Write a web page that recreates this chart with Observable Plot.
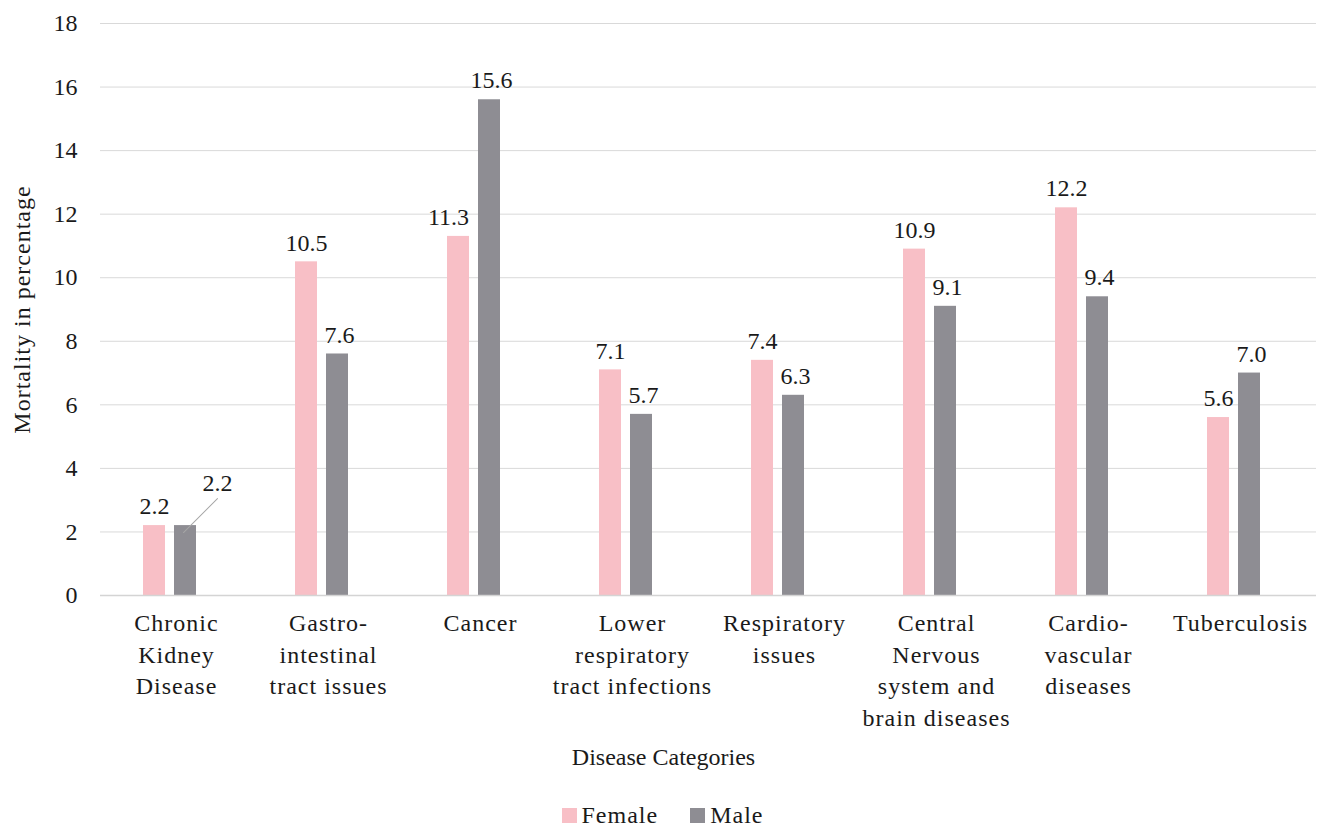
<!DOCTYPE html>
<html><head><meta charset="utf-8">
<script src="https://cdn.jsdelivr.net/npm/d3@7"></script>
<script src="https://cdn.jsdelivr.net/npm/@observablehq/plot@0.6"></script>
<style>
body{margin:0;background:#fff;}
#chart{width:1321px;}
#chart svg{display:block;}
#chart svg text{font-family:"Liberation Serif",serif;}
#chart svg g[aria-label="x-axis tick label"] text,
#chart svg [aria-label="x-title"],
#chart svg [aria-label="x-title"] text,
#chart svg g[aria-label="y-axis label"] text{letter-spacing:1px;}
.legend{display:flex;justify-content:center;align-items:center;gap:32px;padding-top:18px;padding-left:4px;font-family:"Liberation Serif",serif;font-size:24px;letter-spacing:1px;color:#1a1a1a;line-height:24px;}
.legend span.item{display:flex;align-items:center;}
.legend span.sw{display:inline-block;width:15px;height:15px;margin-right:5px;}
</style></head><body><div id="chart"></div><script>
const categories = ["Chronic Kidney Disease","Gastro-intestinal tract issues","Cancer","Lower respiratory tract infections","Respiratory issues","Central Nervous system and brain diseases","Cardio-vascular diseases","Tuberculosis"];
const tickLabels = ["Chronic\nKidney\nDisease","Gastro-\nintestinal\ntract issues","Cancer","Lower\nrespiratory\ntract infections","Respiratory\nissues","Central\nNervous\nsystem and\nbrain diseases","Cardio-\nvascular\ndiseases","Tuberculosis"];
const female = [2.2, 10.5, 11.3, 7.1, 7.4, 10.9, 12.2, 5.6];
const male = [2.2, 7.6, 15.6, 5.7, 6.3, 9.1, 9.4, 7.0];
const yTicks = [0, 2, 4, 6, 8, 10, 12, 14, 16, 18];
const series = ["Female", "Male"];
const colors = ["#F8BFC6", "#8E8D93"];
const xTitle = "Disease Categories";
const yTitle = "Mortality in percentage";

const femaleRows = categories.map((c, i) => ({category: c, sex: "Female", value: female[i]}));
const maleRows = categories.map((c, i) => ({category: c, sex: "Male", value: male[i]}));
const labelMap = new Map(categories.map((c, i) => [c, tickLabels[i]]));
// labels nudged in the original: female Cancer label (left), male CKD label (with leader)
const femaleNormal = femaleRows.filter((d, i) => i !== 2);
const femaleNudged = femaleRows.filter((d, i) => i === 2);
const maleNormal = maleRows.slice(1);
const maleOffset = maleRows.slice(0, 1);

const leader = {draw(context, l) { context.moveTo(0, 0); context.lineTo(0, -l); }};
const ink = "#1a1a1a";

const chart = Plot.plot({
  width: 1321,
  height: 785,
  marginLeft: 100,
  marginRight: 5,
  marginTop: 23,
  marginBottom: 190,
  x: {domain: categories, padding: 0},
  y: {domain: [0, 18]},
  style: {fontFamily: "Liberation Serif", fontSize: "24px", color: ink, background: "#fff"},
  marks: [
    Plot.gridY(yTicks, {stroke: "#d9d9d9", strokeOpacity: 1}),
    Plot.axisY(yTicks, {tickSize: 0, tickPadding: 23, label: yTitle, labelAnchor: "center", labelArrow: "none", labelOffset: 88, fontSize: 24}),
    Plot.axisX({tickSize: 0, tickPadding: 13, tickFormat: c => labelMap.get(c), lineHeight: 1.32, label: null, fontSize: 24}),
    Plot.text([xTitle], {frameAnchor: "bottom", text: d => d, dx: -45, dy: 162, lineAnchor: "middle", fontSize: 24, fill: ink, ariaLabel: "x-title"}),
    Plot.barY(femaleRows, {x: "category", y: "value", fill: colors[0], insetLeft: 43, insetRight: 87}),
    Plot.barY(maleRows, {x: "category", y: "value", fill: colors[1], insetLeft: 74, insetRight: 56}),
    Plot.text(femaleNormal, {x: "category", y: "value", text: d => d.value.toFixed(1), dx: -22, dy: -19, lineAnchor: "middle", fontSize: 24, fill: ink}),
    Plot.text(femaleNudged, {x: "category", y: "value", text: d => d.value.toFixed(1), dx: -32, dy: -19, lineAnchor: "middle", fontSize: 24, fill: ink}),
    Plot.text(maleNormal, {x: "category", y: "value", text: d => d.value.toFixed(1), dx: 11, dy: -19, lineAnchor: "middle", fontSize: 24, fill: ink}),
    Plot.vector(maleOffset, {x: "category", y: "value", dx: 7, dy: 7, anchor: "start", length: 48, rotate: 45, shape: leader, stroke: "#a6a6a6", strokeWidth: 1}),
    Plot.text(maleOffset, {x: "category", y: "value", text: d => d.value.toFixed(1), dx: 41, dy: -42, lineAnchor: "middle", fontSize: 24, fill: ink}),
    Plot.ruleY([0], {stroke: "#d4d4d4", strokeWidth: 1.5})
  ]
});
document.getElementById("chart").appendChild(chart);

const legend = document.createElement("div");
legend.className = "legend";
series.forEach((s, i) => {
  const item = document.createElement("span");
  item.className = "item";
  const sw = document.createElement("span");
  sw.className = "sw";
  sw.style.background = colors[i];
  item.appendChild(sw);
  item.appendChild(document.createTextNode(s));
  legend.appendChild(item);
});
document.getElementById("chart").appendChild(legend);
</script></body></html>
